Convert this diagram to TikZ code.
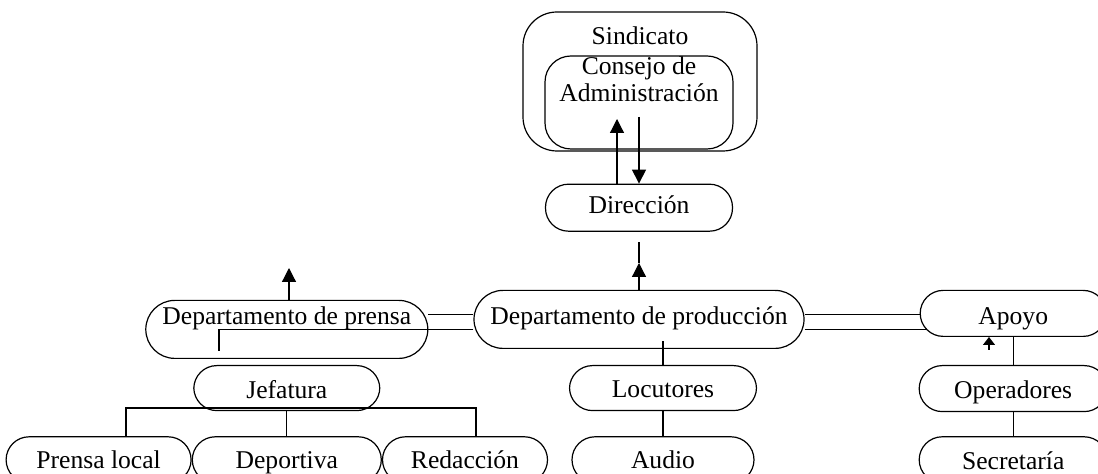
\documentclass[tikz,border=0pt]{standalone}
\usepackage{fontspec}
\setmainfont{Liberation Serif}
\usetikzlibrary{arrows.meta, positioning}
\tikzset{caja/.style={rectangle, rounded corners=11.5pt, draw=black, line width=0.6pt,
  inner xsep=0pt, inner ysep=0pt, font=\fontsize{12.8}{13.5}\selectfont}}
\tikzset{cajag/.style={caja, rounded corners=14.5pt}}
\tikzset{fl/.style={-{Triangle[length=7pt, width=7pt]}, line width=0.6pt}}
\tikzset{flc/.style={-{Triangle[length=4pt, width=6pt]}, line width=0.6pt}}
\tikzset{ln/.style={line width=0.6pt}}

\begin{document}
\begin{tikzpicture}[x=0.5pt, y=-0.5pt]
\useasboundingbox (0,0) rectangle (1098,474);
% parte superior
\node[caja, rounded corners=17pt, minimum width=117pt, text height=16.5pt, text depth=53pt] (sind) at (640,81.5) {Sindicato};
\node[caja, rounded corners=13pt, minimum width=94pt, text height=9.5pt, text depth=37pt] (consejo) at (639,102.5)
  {\begin{tabular}[t]{@{}c@{}}Consejo de\\Administración\end{tabular}};
\node[caja, below=17pt of consejo, minimum width=93.5pt, text height=14.5pt, text depth=9pt] (dir) {Dirección};
% departamentos
\node[cajag, below=29pt of dir, minimum width=165pt, text height=17pt, text depth=12pt] (prod) {Departamento de producción};
\node[cajag, left=22.5pt of prod, yshift=-5pt, minimum width=141pt, text height=12pt, text depth=17pt] (prensa) {Departamento de prensa};
\node[caja, right=57.5pt of prod, yshift=3pt, minimum width=93pt, text height=17pt, text depth=6pt] (apoyo) {Apoyo};
\node[caja, below=14pt of apoyo, minimum width=94pt, text height=16.5pt, text depth=6.5pt] (oper) {Operadores};
\node[caja, below=12pt of oper, minimum width=94pt, text height=16.5pt, text depth=6.5pt] (secr) {Secretaría};
\node[caja, below=8pt of prod, xshift=12pt, minimum width=93.5pt, text height=16pt, text depth=6.5pt] (loc) {Locutores};
\node[caja, below=12.5pt of loc, minimum width=91pt, text height=16pt, text depth=7pt] (audio) {Audio};
\node[caja, below=3pt of prensa, minimum width=93pt, text height=16.5pt, text depth=6pt] (jef) {Jefatura};
\node[caja, below=12.5pt of jef, minimum width=94.5pt, text height=16pt, text depth=7pt] (dep) {Deportiva};
\node[caja, left=0pt of dep, minimum width=92.5pt, text height=16pt, text depth=7pt] (pl) {Prensa local};
\node[caja, right=0pt of dep, minimum width=82.5pt, text height=16pt, text depth=7pt] (red) {Redacción};
% flechas
\coordinate (sube) at (617,119);
\coordinate (baja) at (639,117);
\draw[fl] (sube |- dir.north) -- (sube);
\draw[fl] (baja) -- (dir.north);
\coordinate (pa) at (640,263);
\coordinate (pb) at (640,242);
\draw[fl] (prod.north) -- (prod.north |- pa);
\draw[ln] (prod.north |- pa) -- (prod.north |- pb);
\coordinate (pp) at (289,268);
\draw[fl] (pp |- prensa.north) -- (pp);
\coordinate (ap) at (989,350);
\draw[flc] (ap) -- (ap |- apoyo.south);
% lineas dobles
\coordinate (pq) at (219,351);
\coordinate (aq) at (927,327);
\draw[ln] ([yshift=2.5pt]prod.west) -- ([yshift=2.5pt]prod.west -| prensa.east);
\draw[ln] ([yshift=-5pt]prod.west) -| (pq);
\draw[ln] ([yshift=2.5pt]prod.east) -- ([yshift=2.5pt]prod.east -| apoyo.west);
\draw[ln] ([yshift=-5pt]prod.east) -- ([yshift=-5pt]prod.east -| aq);
% lineas simples
\draw[ln] (loc.north) -- ++(0,-24);
\draw[ln] (loc.south) -- (audio.north);
\draw[ln] (apoyo.south) -- (oper.north);
\draw[ln] (oper.south) -- (secr.north);
\coordinate (b1) at (126,408);
\coordinate (b2) at (476,408);
\draw[ln] (jef.south) -- (dep.north);
\draw[ln] (b1 |- pl.north) -- (b1) -- (b2) -- (b2 |- red.north);
\end{tikzpicture}
\end{document}
